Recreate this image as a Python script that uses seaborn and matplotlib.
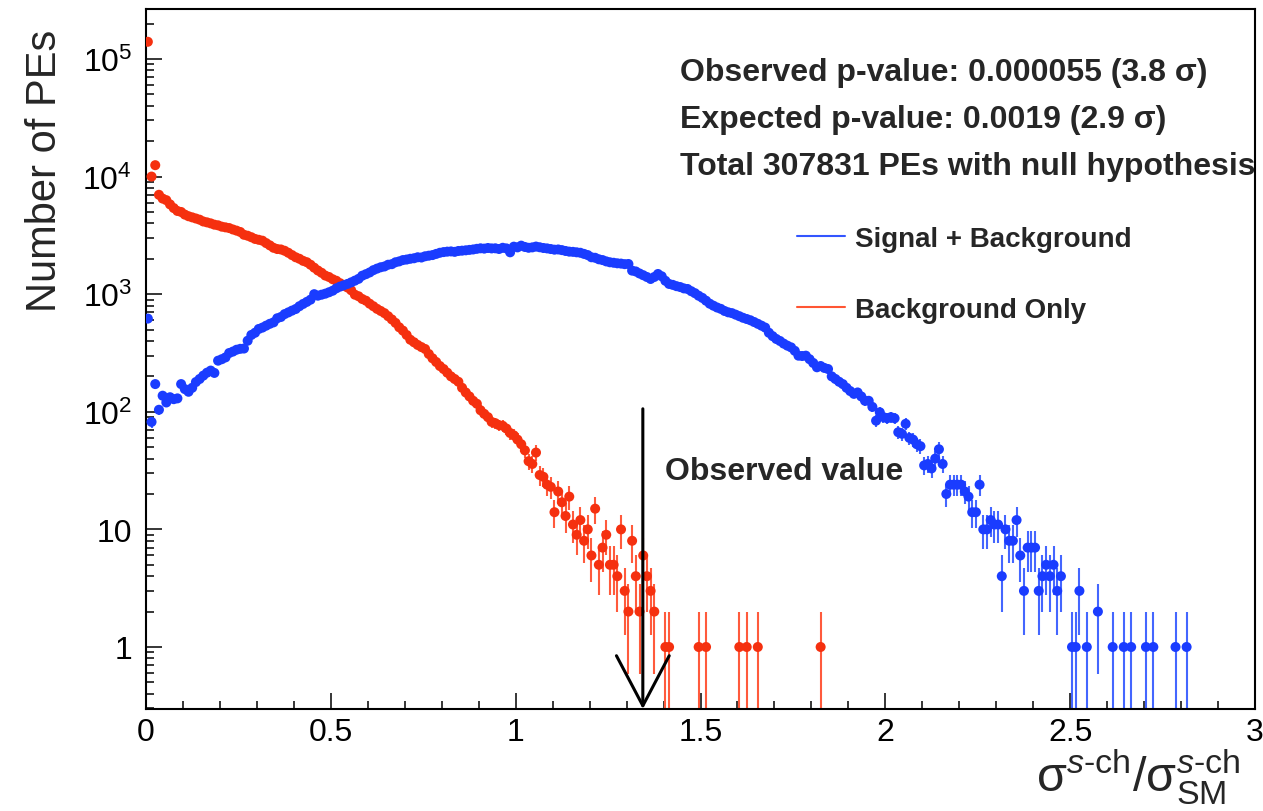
import numpy as np
import pandas as pd
import matplotlib
matplotlib.use("Agg")
import matplotlib.pyplot as plt
import seaborn as sns
from matplotlib.lines import Line2D
from matplotlib.ticker import LogLocator, MultipleLocator, FuncFormatter, NullFormatter

# histogram binning (0.01 wide bins starting at 0)
bin_width = 0.01

# Background-only pseudo-experiments, counts per bin
bkg_counts = [
    140000, 10000, 12500, 7000, 6500, 6300, 5800, 5400, 5100, 5000,
    4750, 4600, 4500, 4400, 4300, 4150, 4080, 4000, 3900, 3850,
    3750, 3700, 3650, 3550, 3470, 3380, 3200, 3140, 3050, 2950,
    2900, 2850, 2720, 2600, 2480, 2420, 2400, 2340, 2250, 2150,
    2060, 2000, 1920, 1870, 1780, 1680, 1590, 1520, 1440, 1400,
    1340, 1300, 1240, 1180, 1140, 1080, 990, 960, 910, 880,
    830, 790, 750, 720, 690, 650, 610, 570, 523, 490,
    450, 410, 390, 370, 355, 342, 310, 285, 265, 245,
    231, 215, 200, 190, 180, 160, 146, 135, 124, 117,
    103, 96, 90, 82, 80, 77, 76, 72, 66, 63,
    58, 53, 47, 38, 36, 45, 29, 28, 24, 23,
    14, 21, 17, 13, 19, 11, 9, 12, 8, 10,
    6, 15, 5, 7, 9, 5, 5, 4, 10, 3,
    2, 8, 4, 2, 6, 4, 3, 2, 0, 0,
    1, 1, 0, 0, 0, 0, 0, 0, 0, 1,
    0, 1, 0, 0, 0, 0, 0, 0, 0, 0,
    1, 0, 1, 0, 0, 1, 0, 0, 0, 0,
    0, 0, 0, 0, 0, 0, 0, 0, 0, 0,
    0, 0, 1,
]

# Signal + background pseudo-experiments, counts per bin
sig_counts = [
    620, 82, 172, 104, 137, 120, 133, 128, 130, 172,
    156, 148, 160, 179, 190, 203, 215, 224, 214, 272,
    280, 290, 316, 325, 337, 343, 345, 402, 450, 470,
    506, 520, 540, 560, 576, 624, 640, 677, 700, 725,
    748, 790, 826, 860, 898, 1000, 971, 990, 1010, 1038,
    1070, 1122, 1160, 1190, 1222, 1260, 1303, 1350, 1436, 1480,
    1530, 1600, 1650, 1694, 1720, 1780, 1800, 1868, 1900, 1950,
    1970, 2000, 2020, 2060, 2050, 2100, 2125, 2150, 2200, 2250,
    2280, 2300, 2310, 2290, 2330, 2344, 2360, 2380, 2400, 2430,
    2455, 2440, 2470, 2450, 2455, 2422, 2480, 2450, 2270, 2535,
    2500, 2586, 2520, 2480, 2500, 2540, 2506, 2470, 2450, 2420,
    2390, 2400, 2370, 2330, 2300, 2290, 2270, 2250, 2200, 2150,
    2060, 2040, 1980, 1950, 1900, 1867, 1850, 1830, 1820, 1800,
    1806, 1586, 1560, 1500, 1450, 1400, 1347, 1400, 1485, 1420,
    1300, 1222, 1200, 1170, 1150, 1120, 1107, 1060, 1020, 970,
    930, 880, 830, 798, 770, 750, 720, 701, 690, 670,
    650, 630, 615, 600, 580, 560, 540, 520, 470, 440,
    416, 400, 380, 365, 353, 330, 300, 298, 300, 280,
    260, 239, 245, 236, 231, 200, 190, 180, 172, 160,
    150, 142, 146, 135, 124, 124, 110, 84, 99, 90,
    88, 90, 88, 67, 65, 79, 60, 58, 53, 51,
    35, 36, 33, 40, 48, 36, 20, 24, 24, 24,
    24, 21, 19, 14, 14, 24, 10, 10, 12, 11,
    11, 4, 10, 8, 8, 12, 6, 3, 7, 7,
    7, 3, 4, 5, 4, 5, 3, 4, 0, 0,
    1, 1, 3, 0, 1, 0, 0, 2, 0, 0,
    0, 1, 0, 0, 1, 0, 1, 0, 0, 0,
    1, 0, 1, 0, 0, 0, 0, 0, 1, 0,
    0, 1,
]

observed = 1.344
arrow_top = 106
info_lines = [
    "Observed p-value: 0.000055 (3.8 σ)",
    "Expected p-value: 0.0019 (2.9 σ)",
    "Total 307831 PEs with null hypothesis",
]
labels = ["Signal + Background", "Background Only"]

red = "#f5300f"
red_bar = "#ff5a3c"
blue = "#1a3cff"
blue_bar = "#4466ff"

sns.set_theme(style="ticks")
plt.rcParams["font.family"] = ["Liberation Sans", "DejaVu Sans"]
plt.rcParams["mathtext.fontset"] = "custom"
plt.rcParams["mathtext.rm"] = "Liberation Sans"
plt.rcParams["mathtext.it"] = "Liberation Sans:italic"
plt.rcParams["mathtext.bf"] = "Liberation Sans:bold"


def to_frame(counts, name):
    n = np.array(counts, dtype=float)
    centers = (np.arange(len(n)) + 0.5) * bin_width
    df = pd.DataFrame({"x": centers, "n": n, "sample": name})
    df = df[df.n > 0].copy()
    df["lo"] = np.maximum(df.n - np.sqrt(df.n), 1e-3)
    df["hi"] = df.n + np.sqrt(df.n)
    return df


bkg = to_frame(bkg_counts, "bkg")
sig = to_frame(sig_counts, "sig")

fig = plt.figure(figsize=(12.63, 8.12), dpi=100)
ax = fig.add_axes([146 / 1263, 1 - 710 / 812, 1109 / 1263, 700 / 812])

for df, c, cb in [(bkg, red, red_bar), (sig, blue, blue_bar)]:
    ax.vlines(df.x, df.lo, df.hi, color=cb, lw=1.5, zorder=2)
    sns.scatterplot(data=df, x="x", y="n", color=c, s=52, edgecolor="none",
                    legend=False, ax=ax, zorder=3)

ax.set_yscale("log")
ax.set_xlim(0, 3)
ax.set_ylim(0.297, 2.66e5)
ax.set_xlabel("")
ax.set_ylabel("")

ax.xaxis.set_major_locator(MultipleLocator(0.5))
ax.xaxis.set_minor_locator(MultipleLocator(0.1))
ax.xaxis.set_major_formatter(FuncFormatter(lambda v, p: f"{v:g}"))
ax.yaxis.set_major_locator(LogLocator(base=10, numticks=10))
ax.yaxis.set_minor_locator(LogLocator(base=10, subs=np.arange(2, 10), numticks=20))
ax.yaxis.set_minor_formatter(NullFormatter())


def yfmt(v, pos):
    if v < 0.5:
        return ""
    if v < 50:
        return f"{v:g}"
    return r"$10^{%d}$" % round(np.log10(v))


ax.yaxis.set_major_formatter(FuncFormatter(yfmt))
ax.tick_params(which="both", direction="in", width=1.1, colors="black",
               labelsize=23, top=False, right=False)
ax.tick_params(which="major", length=11.5)
ax.tick_params(which="minor", length=5.8)
ax.tick_params(axis="x", pad=6)
ax.tick_params(axis="y", pad=10)
for s in ax.spines.values():
    s.set_linewidth(1.5)
    s.set_color("black")

# observed value arrow
ax.annotate("", xy=(observed, 0.297), xytext=(observed, arrow_top),
            arrowprops=dict(arrowstyle="->,head_length=1.8,head_width=0.95",
                            color="black", lw=2.2, shrinkA=0, shrinkB=0,
                            mutation_scale=20))
ax.text(0.468, 0.34, "Observed value", transform=ax.transAxes, fontsize=23,
        fontweight="bold", va="center", ha="left")

for i, line in enumerate(info_lines):
    ax.text(0.4815, 0.91 - i * 0.067, line, transform=ax.transAxes, fontsize=23,
            fontweight="bold", va="center", ha="left")

handles = [Line2D([], [], color="#3355ff", lw=1.5),
           Line2D([], [], color="#ff5533", lw=1.5)]
ax.legend(handles, labels, loc="upper left", bbox_to_anchor=(0.587, 0.690),
          frameon=False, borderpad=0, borderaxespad=0, handlelength=1.73,
          handletextpad=0.36, labelspacing=1.62,
          prop=dict(weight="bold", size=20))

fig.text(0.036, 1 - 30 / 812, "Number of PEs", rotation=90, fontsize=30,
         ha="center", va="top")
fig.text(0.982, 1 - 777 / 812,
         r"$\mathrm{σ}^{s\mathrm{\text{-}ch}}/\mathrm{σ}^{s\mathrm{\text{-}ch}}_{\mathrm{SM}}$",
         fontsize=35, ha="right", va="center")

fig.savefig("out.png", dpi=100, facecolor="white")
